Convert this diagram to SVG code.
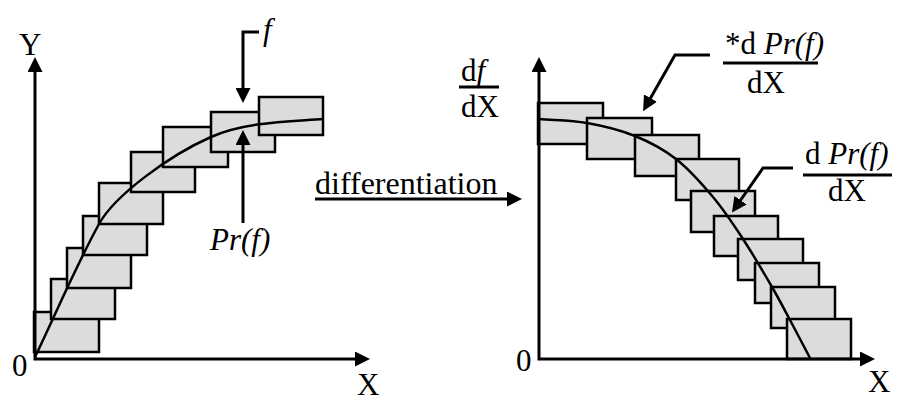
<svg xmlns="http://www.w3.org/2000/svg" width="898" height="403" viewBox="0 0 898 403">
<style>
  .bar { fill: #dcdcdc; stroke: #000; stroke-width: 2.5; }
  .curve { fill: none; stroke: #000; stroke-width: 2.5; }
  .axis { fill: none; stroke: #000; stroke-width: 3; }
  .lead { fill: none; stroke: #000; stroke-width: 3; }
  .frac { stroke: #000; stroke-width: 3; }
  text { font-family: 'Liberation Serif', Tinos, 'Times New Roman', 'Nimbus Roman', 'DejaVu Serif', serif; font-size: 31px; fill: #000; }
  .it { font-style: italic; }
</style>
<defs>
  <marker id="ah" viewBox="0 0 15 15" markerWidth="15" markerHeight="15" refX="1" refY="7.5" markerUnits="userSpaceOnUse" orient="auto-start-reverse">
    <path d="M0,0 L15,7.5 L0,15 z" fill="#000"/>
  </marker>
</defs>

<g id="left-plot">
  <rect class="bar" x="34" y="312" width="65" height="40"/>
  <rect class="bar" x="51" y="279" width="64" height="40"/>
  <rect class="bar" x="67" y="248" width="64" height="40"/>
  <rect class="bar" x="83" y="216" width="64" height="39"/>
  <rect class="bar" x="99" y="183" width="64" height="41"/>
  <rect class="bar" x="131" y="152" width="64" height="40"/>
  <rect class="bar" x="163" y="127" width="65" height="40"/>
  <rect class="bar" x="211" y="112" width="64" height="40"/>
  <rect class="bar" x="259" y="97" width="64" height="38"/>
  <path class="curve" d="M35,357 C56,313 77,264 99,224 C115,195 170,155 211,137 C245,121.7 290,121.6 323,119"/>
  <path class="axis" d="M35,71 L35,359 L356,359" marker-start="url(#ah)" marker-end="url(#ah)"/>
  <text x="19" y="55">Y</text>
  <text x="12" y="376">0</text>
  <text x="357" y="395">X</text>
</g>

<g id="right-plot">
  <rect class="bar" x="538" y="103" width="65" height="41"/>
  <rect class="bar" x="587" y="118" width="65" height="41"/>
  <rect class="bar" x="635" y="135" width="64" height="41"/>
  <rect class="bar" x="676" y="159" width="63" height="41"/>
  <rect class="bar" x="691" y="191" width="64" height="41"/>
  <rect class="bar" x="714" y="216" width="64" height="40"/>
  <rect class="bar" x="738" y="239" width="65" height="41"/>
  <rect class="bar" x="755" y="263" width="64" height="40"/>
  <rect class="bar" x="771" y="287" width="64" height="41"/>
  <rect class="bar" x="787" y="319" width="64" height="40"/>
  <path class="curve" d="M539,119 C555,120.3 571,120.2 587,123 C603,125.8 620.2,130 635,136 C649.8,142 663,148.8 676,159 C689,169.2 701.8,183.7 713,197 C724.2,210.3 733.2,224 743,239 C752.8,254 764.2,273.5 772,287 C779.8,300.5 783.7,308.2 790,320 C796.3,331.8 803.3,345.3 810,358"/>
  <path class="axis" d="M539,71 L539,359 L861,359" marker-start="url(#ah)" marker-end="url(#ah)"/>
  <text x="516" y="371">0</text>
  <text x="868" y="392">X</text>
</g>

<g id="label-f">
  <text x="263" y="40" class="it">f</text>
</g>
<g id="label-prf">
  <text x="210" y="250" class="it">Pr(f)</text>
</g>
<g id="label-differentiation">
  <text x="315" y="194" style="font-size:32px">differentiation</text>
</g>
<g id="label-dfdx">
  <text x="461" y="81">d<tspan class="it">f</tspan></text>
  <line class="frac" x1="459" y1="87" x2="499" y2="87"/>
  <text x="461" y="117">dX</text>
</g>
<g id="label-star-dprf">
  <text x="725" y="54">*d <tspan class="it">Pr(f)</tspan></text>
  <line class="frac" x1="723" y1="63" x2="818" y2="63"/>
  <text x="747" y="93">dX</text>
</g>
<g id="label-dprf">
  <text x="805" y="164">d <tspan class="it">Pr(f)</tspan></text>
  <line class="frac" x1="803" y1="175" x2="892" y2="175"/>
  <text x="828" y="201">dX</text>
</g>

<g id="connectors">
  <path class="lead" d="M259,32 L243,32 L243,89" marker-end="url(#ah)"/>
  <path class="lead" d="M243,223 L243,144" marker-end="url(#ah)"/>
  <path class="lead" d="M315,199 L508,199" marker-end="url(#ah)"/>
  <path class="lead" d="M710,55 L675,55 L650,99" marker-end="url(#ah)"/>
  <path class="lead" d="M793,168 L763,168 L740,201" marker-end="url(#ah)"/>
</g>
</svg>
